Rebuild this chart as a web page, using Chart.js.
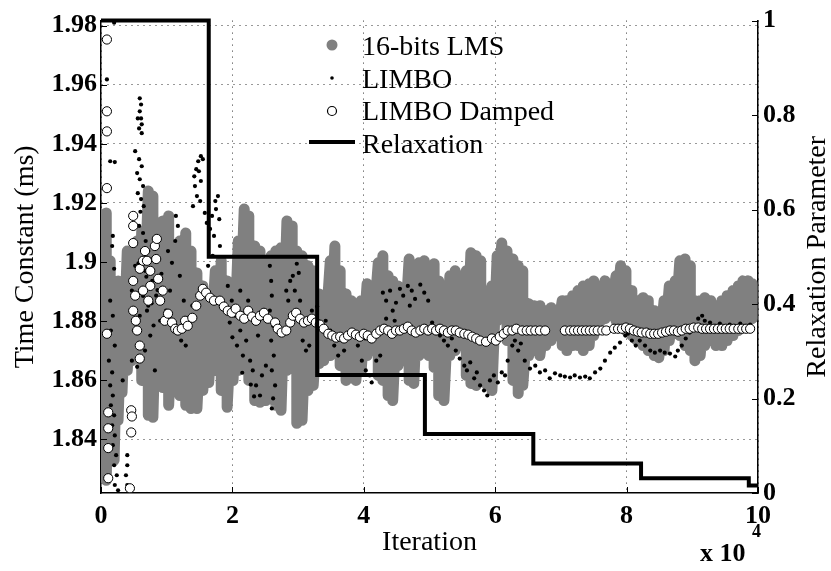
<!DOCTYPE html>
<html>
<head>
<meta charset="utf-8">
<title>Time constant vs iteration</title>
<script src="https://cdn.jsdelivr.net/npm/chart.js@4.4.1/dist/chart.umd.min.js"></script>
<style>
  html, body { margin: 0; padding: 0; background: #fff; }
  #wrap { width: 831px; height: 571px; }
</style>
</head>
<body>
<div id="wrap"><canvas id="chart" width="831" height="571"></canvas></div>
<script>
// values, x is in units of 10^4 iterations

// 16-bits LMS: each streak of grey dots as (x, highest value, lowest value)
const lmsX = [0.03,0.08,0.14,0.20,0.26,0.32,0.40,0.47,0.55,0.62,0.72,0.79,0.87,0.94,1.03,1.13,1.20,1.29,1.37,1.46,
  1.55,1.64,1.74,1.83,1.92,2.01,2.09,2.18,2.25,2.34,2.42,2.51,2.59,2.66,2.74,2.83,2.91,2.98,3.06,3.15,
  3.23,3.32,3.39,3.49,3.56,3.64,3.73,3.81,3.88,3.96,4.05,4.12,4.22,4.29,4.37,4.44,4.52,4.60,4.69,4.76,
  4.84,4.92,4.99,5.07,5.14,5.22,5.31,5.39,5.46,5.56,5.63,5.71,5.78,5.88,5.95,6.03,6.10,6.18,6.27,6.35,
  6.42,6.51,6.59,6.68,6.77,6.85,6.94,7.02,7.09,7.18,7.26,7.34,7.43,7.50,7.60,7.67,7.75,7.84,7.91,7.99,
  8.08,8.16,8.25,8.33,8.42,8.49,8.57,8.65,8.74,8.81,8.89,8.97,9.04,9.12,9.19,9.28,9.36,9.45,9.53,9.62,
  9.70,9.77,9.85,9.91];
const lmsHigh = [1.8869,1.9166,1.9004,1.8903,1.8936,1.8896,1.9037,1.8970,1.9071,1.9105,1.9240,1.9223,1.9132,1.9139,1.9156,1.9044,1.9071,1.9098,1.9037,1.8963,
  1.8919,1.8875,1.8970,1.9004,1.8936,1.8903,1.9071,1.9179,1.9156,1.9054,1.9037,1.9004,1.9021,1.9037,1.9048,1.9139,1.9122,1.9037,1.9021,1.8987,
  1.8970,1.8892,1.8869,1.9004,1.9054,1.8970,1.8892,1.8869,1.8835,1.8869,1.8926,1.8903,1.8997,1.9021,1.8953,1.8936,1.8919,1.8903,1.9010,1.8987,
  1.8997,1.9004,1.8987,1.8994,1.8936,1.8919,1.8953,1.8970,1.8953,1.8970,1.9031,1.9021,1.9004,1.8903,1.8919,1.9021,1.9064,1.9037,1.9010,1.8987,
  1.8970,1.8859,1.8852,1.8852,1.8835,1.8845,1.8835,1.8869,1.8869,1.8886,1.8903,1.8919,1.8926,1.8936,1.8919,1.8936,1.8919,1.8953,1.8987,1.8970,
  1.8903,1.8869,1.8879,1.8869,1.8835,1.8818,1.8869,1.8919,1.8936,1.9004,1.9010,1.8987,1.8869,1.8869,1.8879,1.8869,1.8852,1.8869,1.8886,1.8903,
  1.8919,1.8936,1.8936,1.8926];
const lmsLow = [1.8295,1.8261,1.8397,1.8329,1.8464,1.8558,1.8633,1.8666,1.8700,1.8599,1.8481,1.8474,1.8582,1.8575,1.8515,1.8582,1.8548,1.8515,1.8504,1.8504,
  1.8565,1.8592,1.8633,1.8565,1.8508,1.8599,1.8633,1.8649,1.8599,1.8531,1.8525,1.8531,1.8565,1.8515,1.8498,1.8633,1.8666,1.8454,1.8464,1.8565,
  1.8582,1.8656,1.8666,1.8683,1.8700,1.8649,1.8599,1.8616,1.8599,1.8633,1.8683,1.8700,1.8616,1.8599,1.8548,1.8531,1.8649,1.8666,1.8599,1.8589,
  1.8683,1.8693,1.8683,1.8643,1.8548,1.8531,1.8683,1.8700,1.8717,1.8616,1.8589,1.8582,1.8599,1.8582,1.8565,1.8801,1.8835,1.8734,1.8599,1.8555,
  1.8582,1.8683,1.8700,1.8683,1.8717,1.8734,1.8751,1.8717,1.8700,1.8717,1.8717,1.8700,1.8717,1.8751,1.8801,1.8808,1.8818,1.8801,1.8784,1.8768,
  1.8751,1.8734,1.8717,1.8700,1.8683,1.8676,1.8700,1.8734,1.8768,1.8751,1.8717,1.8700,1.8666,1.8683,1.8717,1.8734,1.8717,1.8717,1.8734,1.8751,
  1.8768,1.8795,1.8801,1.8808];

// LIMBO: small black dots
const limboX = [0.20,0.09,0.14,0.21,0.18,0.17,0.20,0.14,0.18,0.15,0.21,0.12,0.17,0.14,0.18,0.15,0.20,0.17,0.21,0.18,
  0.23,0.20,0.24,0.21,0.26,0.40,0.40,0.38,0.40,0.33,
  0.59,0.61,0.59,0.61,0.56,0.62,0.58,0.62,0.52,0.58,0.62,0.55,0.59,0.64,0.56,0.61,0.65,0.53,0.58,0.64,
  0.68,0.49,0.72,0.75,0.52,0.67,0.78,0.47,0.84,0.72,0.59,0.90,0.50,0.75,0.67,0.47,0.82,
  0.53,0.64,0.70,0.80,0.86,0.92,0.55,0.57,0.63,0.69,0.77,0.60,
  1.08,1.14,1.17,1.13,1.02,1.20,1.05,1.26,0.99,1.32,1.11,1.22,1.39,1.29,
  1.42,1.45,1.48,1.52,1.55,1.49,1.43,1.52,1.46,1.40,1.51,1.58,1.61,1.66,1.69,1.74,1.78,1.75,1.80,1.72,1.81,1.70,1.63,
  1.93,1.99,2.04,1.96,2.12,2.07,2.16,2.21,2.27,2.31,2.36,2.42,2.45,2.51,2.39,2.48,2.24,2.12,1.89,2.00,2.15,2.28,2.33,
  2.57,2.59,2.60,2.57,2.62,2.59,2.63,2.60,2.65,2.62,2.60,
  2.82,2.88,2.92,2.98,3.01,2.95,3.03,2.85,3.07,3.12,3.17,3.21,3.26,3.29,
  3.42,3.49,3.55,3.61,3.67,3.70,3.91,3.97,4.03,4.09,4.12,4.19,4.25,4.02,
  4.29,4.34,4.40,4.44,4.49,4.55,4.60,4.67,4.73,4.78,4.86,4.92,4.98,4.70,4.47,4.34,
  5.04,5.10,5.16,5.22,5.28,5.34,5.40,5.46,5.53,5.57,5.62,5.68,5.72,5.77,5.83,5.88,5.92,5.98,6.04,6.10,6.15,6.19,
  6.26,6.30,6.35,6.39,6.45,6.53,6.61,6.68,6.76,6.83,6.91,6.99,
  7.06,7.14,7.21,7.29,7.37,7.44,7.52,7.60,7.67,7.75,7.82,7.90,7.98,
  8.02,8.08,8.14,8.20,8.28,8.36,8.43,8.51,8.58,8.66,8.74,8.78,8.84,8.90,8.96,9.02,9.09,9.15,9.19,
  9.27,9.35,9.42,9.50,9.57,9.65,9.73,9.80,9.88];
const limboY = [1.9810,1.9618,1.9341,1.9338,1.9088,1.9054,1.8977,1.8869,1.8818,1.8768,1.8717,1.8666,1.8626,1.8582,1.8548,1.8515,1.8481,1.8447,1.8413,1.8380,
  1.8346,1.8312,1.8278,1.8245,1.8227,1.8346,1.8312,1.8278,1.8245,1.8599,
  1.9554,1.9533,1.9510,1.9486,1.9486,1.9466,1.9452,1.9436,1.9375,1.9348,1.9324,1.9301,1.9280,1.9257,1.9233,1.9213,1.9189,1.9156,1.9122,1.9098,
  1.9071,1.9054,1.9037,1.9010,1.8987,1.8970,1.8936,1.8903,1.8886,1.8852,1.8818,1.8801,1.8768,1.8751,1.8700,1.8666,1.8633,
  1.8935,1.8885,1.8835,1.8785,1.8905,1.8960,1.8645,1.8995,1.9040,1.8950,1.8860,1.9170,
  1.8997,1.9156,1.9122,1.9071,1.9037,1.8953,1.8903,1.8869,1.8835,1.8808,1.8768,1.8734,1.8852,1.8717,
  1.9290,1.9314,1.9341,1.9358,1.9348,1.9307,1.9257,1.9274,1.9223,1.9189,1.9206,1.9166,1.9132,1.9112,1.9156,1.9206,1.9223,1.9179,1.9145,1.9088,1.9054,1.9021,1.8987,
  1.8919,1.8869,1.8818,1.8795,1.8768,1.8717,1.8683,1.8734,1.8666,1.8633,1.8582,1.8548,1.8616,1.8649,1.8751,1.8835,1.8869,1.8903,1.8835,1.8745,1.8625,1.8585,1.8545,
  1.8987,1.8936,1.8886,1.8835,1.8784,1.8734,1.8683,1.8633,1.8582,1.8538,1.8504,
  1.8903,1.8936,1.8953,1.8994,1.8963,1.8903,1.8869,1.8869,1.8734,1.8700,1.8717,1.8835,1.8808,1.8849,
  1.8801,1.8768,1.8717,1.8683,1.8734,1.8700,1.8717,1.8666,1.8633,1.8616,1.8592,1.8666,1.8683,1.8741,
  1.8896,1.8869,1.8903,1.8835,1.8862,1.8909,1.8886,1.8919,1.8903,1.8875,1.8923,1.8896,1.8869,1.8852,1.8801,1.8808,
  1.8795,1.8768,1.8751,1.8734,1.8717,1.8741,1.8700,1.8673,1.8649,1.8633,1.8660,1.8606,1.8626,1.8582,1.8565,1.8548,1.8599,1.8616,1.8592,1.8626,1.8616,1.8666,
  1.8717,1.8734,1.8700,1.8724,1.8666,1.8639,1.8649,1.8626,1.8633,1.8606,1.8623,1.8616,
  1.8612,1.8609,1.8616,1.8609,1.8612,1.8606,1.8626,1.8639,1.8666,1.8693,1.8710,1.8727,1.8751,
  1.8757,1.8734,1.8717,1.8734,1.8717,1.8700,1.8693,1.8700,1.8693,1.8690,1.8680,1.8700,1.8717,1.8741,1.8761,1.8784,1.8808,1.8818,1.8801,
  1.8795,1.8784,1.8791,1.8781,1.8788,1.8784,1.8791,1.8784,1.8788];

// LIMBO Damped: open circles
const dampedX = [0.09,0.09,0.09,0.09,0.09,0.11,0.11,0.11,0.11,0.46,0.47,0.46,0.44,0.49,0.49,0.49,
  0.49,0.52,0.49,0.53,0.55,0.59,0.59,0.59,0.64,0.67,0.70,0.75,0.75,0.72,0.64,0.82,0.84,0.85,0.87,0.90,0.94,
  0.97,1.02,1.08,1.13,1.17,1.23,1.28,1.32,1.39,1.45,1.51,1.55,1.60,1.66,1.72,
  1.81,1.87,1.93,1.99,2.05,2.12,2.18,2.24,2.30,2.36,2.42,2.48,2.54,2.65,2.69,2.75,2.82,2.88,2.92,2.97,
  3.03,3.09,3.15,3.21,3.27,3.33,3.39,3.46,3.52,3.58,3.64,3.70,3.76,3.82,3.88,3.94,4.00,4.06,4.12,4.19,
  4.25,4.31,4.37,4.43,4.49,4.55,4.61,4.67,4.73,4.79,4.86,4.92,4.98,5.04,5.10,5.16,5.22,5.28,5.34,5.40,
  5.46,5.53,5.59,5.65,5.71,5.77,5.86,5.95,6.01,6.07,6.13,6.19,6.26,6.32,6.41,6.48,6.54,6.61,6.68,6.76,
  7.06,7.14,7.20,7.26,7.32,7.38,7.44,7.50,7.56,7.63,7.69,7.81,7.87,7.93,7.99,8.05,8.11,8.17,8.23,8.30,
  8.36,8.42,8.48,8.54,8.60,8.66,8.72,8.78,8.84,8.90,8.96,9.02,9.09,9.15,9.21,9.27,9.33,9.39,9.45,9.51,
  9.57,9.63,9.70,9.76,9.82,9.88];
const dampedY = [1.9753,1.9510,1.9442,1.9250,1.8757,1.8491,1.8437,1.8370,1.8268,1.8498,1.8477,1.8423,1.8234,1.9156,1.9122,1.9064,
  1.8936,1.8886,1.8835,1.8801,1.8768,1.8717,1.8673,1.8977,1.9004,1.9037,1.9004,1.8970,1.8919,1.8869,1.8903,1.9054,1.9010,1.9078,1.8943,1.8869,1.8903,
  1.8801,1.8825,1.8795,1.8774,1.8768,1.8774,1.8801,1.8784,1.8811,1.8852,1.8886,1.8909,1.8896,1.8879,1.8869,
  1.8869,1.8849,1.8835,1.8828,1.8842,1.8818,1.8808,1.8835,1.8815,1.8801,1.8818,1.8828,1.8808,1.8795,1.8774,1.8761,1.8768,1.8795,1.8818,1.8828,
  1.8808,1.8795,1.8801,1.8808,1.8795,1.8788,1.8774,1.8757,1.8751,1.8744,1.8747,1.8741,1.8751,1.8761,1.8754,1.8747,1.8757,1.8751,1.8741,1.8757,
  1.8768,1.8774,1.8768,1.8757,1.8768,1.8768,1.8774,1.8781,1.8768,1.8761,1.8768,1.8774,1.8768,1.8774,1.8768,1.8774,1.8768,1.8761,1.8768,1.8768,
  1.8761,1.8757,1.8754,1.8747,1.8741,1.8734,1.8730,1.8741,1.8734,1.8747,1.8757,1.8768,1.8768,1.8774,1.8768,1.8768,1.8768,1.8768,1.8768,1.8768,
  1.8768,1.8768,1.8768,1.8768,1.8768,1.8768,1.8768,1.8768,1.8768,1.8768,1.8768,1.8774,1.8774,1.8774,1.8778,1.8774,1.8768,1.8764,1.8761,1.8761,
  1.8757,1.8757,1.8757,1.8761,1.8764,1.8768,1.8768,1.8764,1.8768,1.8774,1.8774,1.8778,1.8778,1.8774,1.8774,1.8774,1.8774,1.8774,1.8774,1.8774,
  1.8774,1.8774,1.8774,1.8774,1.8774,1.8774];

// Relaxation parameter (right axis), stepping down at each break
const relaxX = [0, 1.64, 3.29, 4.93, 6.58, 8.22, 9.86, 10];
const relaxY = [1, 0.5, 0.25, 0.125, 0.0625, 0.03125, 0.015625, 0.015625];

const xTicks = [0, 2, 4, 6, 8, 10];
const yTicks = [1.84, 1.86, 1.88, 1.9, 1.92, 1.94, 1.96, 1.98];
const y2Ticks = [0, 0.2, 0.4, 0.6, 0.8, 1];

const FONT = "'Liberation Serif', 'Times New Roman', serif";
const GREY = 'rgb(128,128,128)';

// grey streaks: zig-zag from the top of each streak to its bottom
const lmsPoints = [];
lmsX.forEach((x, i) => {
    lmsPoints.push({ x: x, y: lmsHigh[i] });
    lmsPoints.push({ x: x, y: lmsLow[i] });
});
const limboPoints = limboX.map((x, i) => ({ x: x, y: limboY[i] }));
const dampedPoints = dampedX.map((x, i) => ({ x: x, y: dampedY[i] }));
const relaxPoints = relaxX.map((x, i) => ({ x: x, y: relaxY[i] }));

// inward ticks, legend, right title and the x 10^4 note
const extras = {
    id: 'extras',
    afterDraw(chart) {
        const ctx = chart.ctx;
        const area = chart.chartArea;
        const sx = chart.scales.x, sy = chart.scales.y, sy2 = chart.scales.y2;
        ctx.save();

        ctx.strokeStyle = '#000';
        ctx.lineWidth = 1;
        ctx.beginPath();
        xTicks.forEach(v => {
            const px = Math.round(sx.getPixelForValue(v)) + 0.5;
            ctx.moveTo(px, area.bottom);
            ctx.lineTo(px, area.bottom - 6);
        });
        yTicks.forEach(v => {
            const py = Math.round(sy.getPixelForValue(v)) + 0.5;
            ctx.moveTo(area.left, py);
            ctx.lineTo(area.left + 6, py);
        });
        y2Ticks.forEach(v => {
            const py = Math.round(sy2.getPixelForValue(v)) + 0.5;
            ctx.moveTo(area.right, py);
            ctx.lineTo(area.right - 6, py);
        });
        ctx.stroke();

        // legend (no box, like the original)
        const ds = chart.data.datasets;
        const mx = 332, tx = 362;
        const rows = [55, 88, 120, 153];
        ctx.font = '28px ' + FONT;
        ctx.fillStyle = '#000';
        ctx.textAlign = 'left';
        ctx.textBaseline = 'alphabetic';
        ds.forEach((d, i) => ctx.fillText(d.label, tx, rows[i]));

        ctx.fillStyle = GREY;
        ctx.beginPath(); ctx.arc(mx, 45, 5.5, 0, Math.PI * 2); ctx.fill();
        ctx.fillStyle = '#000';
        ctx.beginPath(); ctx.arc(mx, 78, 1.8, 0, Math.PI * 2); ctx.fill();
        ctx.fillStyle = '#fff';
        ctx.lineWidth = 1.2;
        ctx.beginPath(); ctx.arc(mx, 111, 4.5, 0, Math.PI * 2); ctx.fill(); ctx.stroke();
        ctx.lineWidth = 4;
        ctx.beginPath(); ctx.moveTo(309, 142); ctx.lineTo(355, 142); ctx.stroke();

        // right axis title reads bottom to top
        ctx.fillStyle = '#000';
        ctx.save();
        ctx.translate(818, (area.top + area.bottom) / 2);
        ctx.rotate(-Math.PI / 2);
        ctx.textAlign = 'center';
        ctx.textBaseline = 'middle';
        ctx.font = '28px ' + FONT;
        ctx.fillText('Relaxation Parameter', 0, 0);
        ctx.restore();

        // exponent note under the x axis
        ctx.textAlign = 'left';
        ctx.textBaseline = 'alphabetic';
        ctx.font = 'bold 26px ' + FONT;
        ctx.fillText('x 10', 700, 561);
        ctx.font = 'bold 18px ' + FONT;
        ctx.fillText('4', 752, 537);

        ctx.restore();
    }
};

const tickFont = { family: FONT, size: 26, weight: 'bold' };
const titleFont = { family: FONT, size: 28, weight: 'normal' };
const gridStyle = { color: 'rgba(0,0,0,0.8)', lineWidth: 1, drawTicks: false };

new Chart(document.getElementById('chart'), {
    type: 'scatter',
    data: {
        datasets: [
            {
                label: '16-bits LMS',
                type: 'line',
                data: lmsPoints,
                borderColor: GREY,
                borderWidth: 11,
                borderJoinStyle: 'round',
                borderCapStyle: 'round',
                pointRadius: 0,
                tension: 0,
                order: 4
            },
            {
                label: 'LIMBO',
                data: limboPoints,
                backgroundColor: '#000',
                borderWidth: 0,
                pointRadius: 2.1,
                order: 3
            },
            {
                label: 'LIMBO Damped',
                data: dampedPoints,
                backgroundColor: '#fff',
                borderColor: '#000',
                borderWidth: 1,
                pointRadius: 4.6,
                order: 2
            },
            {
                label: 'Relaxation',
                type: 'line',
                data: relaxPoints,
                yAxisID: 'y2',
                stepped: 'before',
                borderColor: '#000',
                borderWidth: 4,
                pointRadius: 0,
                clip: false,
                order: 1
            }
        ]
    },
    options: {
        responsive: false,
        animation: false,
        devicePixelRatio: 1,
        layout: { padding: { top: 19, left: 0, right: 0, bottom: 0 } },
        plugins: {
            legend: { display: false },
            tooltip: { enabled: false }
        },
        scales: {
            x: {
                type: 'linear',
                position: 'bottom',
                min: 0,
                max: 10,
                afterBuildTicks: s => { s.ticks = xTicks.map(v => ({ value: v })); },
                afterFit: s => { s.height = 78; },
                ticks: { font: tickFont, color: '#000', padding: 8, maxRotation: 0, callback: v => String(v) },
                grid: gridStyle,
                border: { display: true, color: '#000', width: 1.5, dash: [1, 5] },
                title: { display: true, text: 'Iteration', font: titleFont, color: '#000', padding: { top: 0, bottom: 12 } }
            },
            y: {
                type: 'linear',
                position: 'left',
                min: 1.8218,
                max: 1.9817,
                afterBuildTicks: s => { s.ticks = yTicks.map(v => ({ value: v })); },
                afterFit: s => { s.width = 101; },
                ticks: { font: tickFont, color: '#000', padding: 4, callback: v => String(+v.toFixed(2)) },
                grid: gridStyle,
                border: { display: true, color: '#000', width: 1.5, dash: [1, 5] },
                title: { display: true, text: 'Time Constant (ms)', font: titleFont, color: '#000', padding: { top: 9, bottom: 0 } }
            },
            y2: {
                type: 'linear',
                position: 'right',
                min: 0,
                max: 1,
                afterBuildTicks: s => { s.ticks = y2Ticks.map(v => ({ value: v })); },
                afterFit: s => { s.width = 73; },
                ticks: { font: tickFont, color: '#000', padding: 5, callback: v => String(+v.toFixed(1)) },
                grid: { drawOnChartArea: false, drawTicks: false },
                border: { display: true, color: '#000', width: 1.5 }
            }
        }
    },
    plugins: [extras]
});
</script>
</body>
</html>
